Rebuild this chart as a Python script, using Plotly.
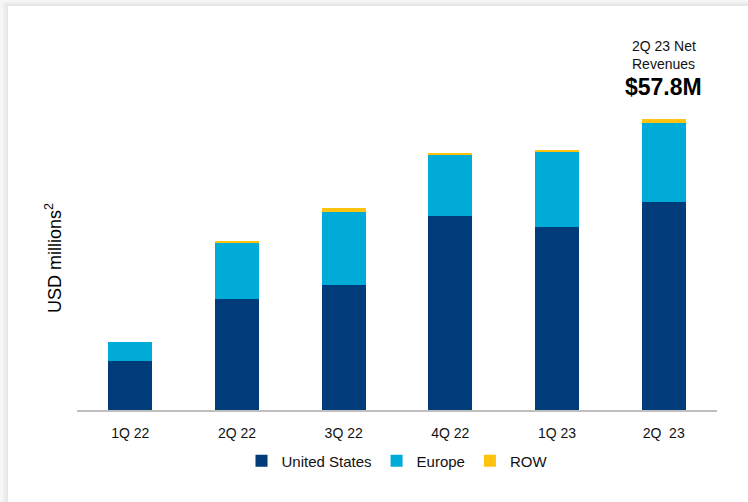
import plotly.graph_objects as go

# Quarterly net revenues by region (USD millions)
quarters = ["1Q 22", "2Q 22", "3Q 22", "4Q 22", "1Q 23", "2Q\u00a0 23"]
united_states = [9.7, 22.1, 24.9, 38.6, 36.3, 41.4]
europe = [3.8, 11.3, 14.5, 12.3, 15.1, 15.7]
row = [0.0, 0.2, 0.8, 0.3, 0.4, 0.7]

series_names = ["United States", "Europe", "ROW"]
series_colors = ["#003B7A", "#00ACD7", "#FFC20E"]

W, H = 748, 502
L, R, T, B = 77, 31, 60, 92
Y_MAX = 69.6

fig = go.Figure()
for name, vals, col in zip(series_names, [united_states, europe, row], series_colors):
    fig.add_trace(go.Bar(x=quarters, y=vals, name=name, marker=dict(color=col, line=dict(width=0)),
                         hoverinfo="skip"))

latest_total = united_states[-1] + europe[-1] + row[-1]


def px_to_paper_x(px):
    return (px - L) / (W - L - R)


def px_to_paper_y(py):
    return (H - B - py) / (H - T - B)


# card with a soft shadow along the top and left edges
shapes = []
for (x0, y0, c) in [(3, 2, "#eeeeee"), (6, 4, "#e6e6e6"), (8, 6, "#ffffff")]:
    shapes.append(dict(type="rect", xref="paper", yref="paper", layer="below",
                       x0=px_to_paper_x(x0), x1=px_to_paper_x(W + 5),
                       y0=px_to_paper_y(H + 5), y1=px_to_paper_y(y0),
                       fillcolor=c, line=dict(width=0)))

font_family = "Liberation Sans, Arial, sans-serif"
annotations = [
    dict(text="2Q 23 Net", x=quarters[-1], xref="x", y=px_to_paper_y(46), yref="paper",
         showarrow=False, font=dict(size=14, color="#111111"), yanchor="middle"),
    dict(text="Revenues", x=quarters[-1], xref="x", y=px_to_paper_y(64), yref="paper",
         showarrow=False, font=dict(size=14, color="#111111"), yanchor="middle"),
    dict(text=f"<b>${latest_total:.1f}M</b>", x=quarters[-1], xref="x", y=px_to_paper_y(87),
         yref="paper", showarrow=False, font=dict(size=23, color="#000000"), yanchor="middle"),
    dict(text="USD millions<sup>2</sup>", x=px_to_paper_x(53), xref="paper",
         y=px_to_paper_y(258), yref="paper", textangle=-90, showarrow=False,
         font=dict(size=18, color="#000000"), xanchor="center", yanchor="middle"),
]

fig.update_layout(
    width=W, height=H,
    margin=dict(l=L, r=R, t=T, b=B, pad=0),
    barmode="stack",
    bargap=0.59,
    paper_bgcolor="#f6f6f6",
    plot_bgcolor="rgba(0,0,0,0)",
    font=dict(family=font_family, color="#111111"),
    xaxis=dict(type="category", showline=True, linecolor="#BFBFBF", linewidth=1.5,
               ticks="", showgrid=False, ticklabelstandoff=9,
               tickfont=dict(size=14, color="#111111")),
    yaxis=dict(visible=False, range=[0, Y_MAX], showgrid=False, zeroline=False),
    legend=dict(orientation="h", x=0.5, xanchor="center", y=px_to_paper_y(461),
                yanchor="middle", font=dict(size=15, color="#111111"),
                bgcolor="rgba(0,0,0,0)", traceorder="normal"),
    shapes=shapes,
    annotations=annotations,
)

fig.write_html("out.html")
